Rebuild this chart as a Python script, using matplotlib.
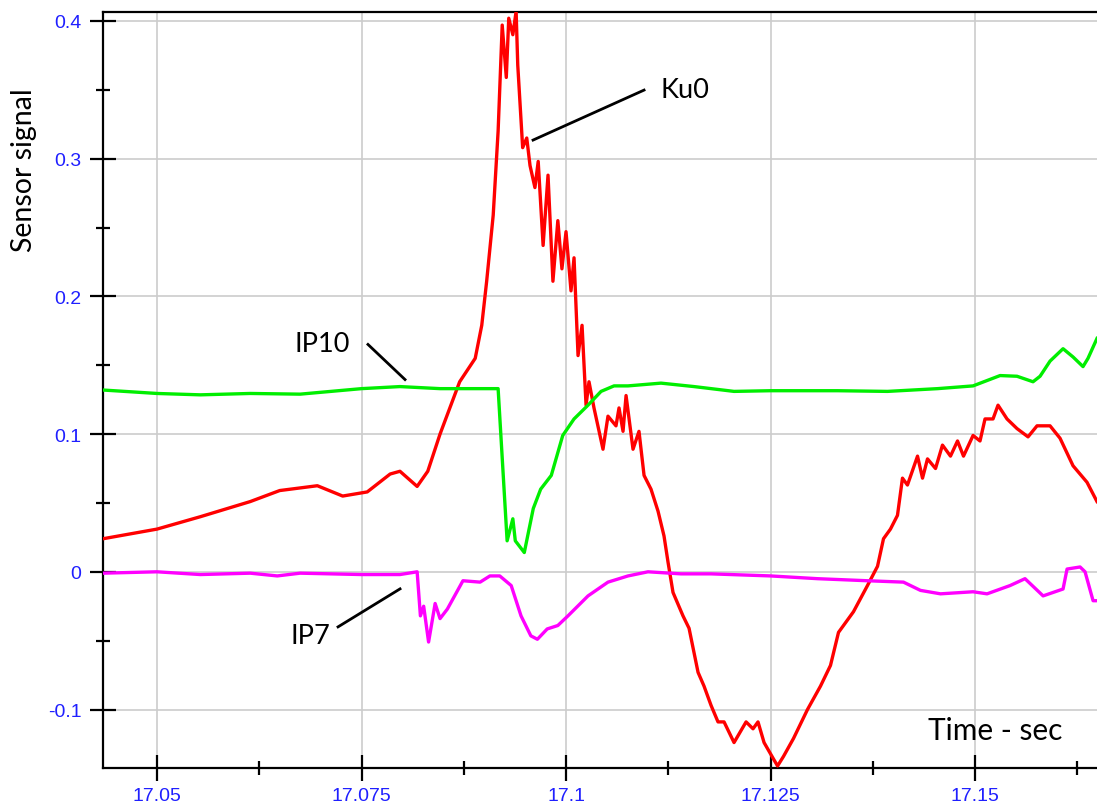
import matplotlib
matplotlib.use("Agg")
import matplotlib.pyplot as plt
from matplotlib.ticker import MultipleLocator

# Ku0 (red)
ku0_t = [17.0434, 17.0500, 17.0553, 17.0614, 17.0650, 17.0696, 17.0727, 17.0757,
         17.0785, 17.0797, 17.0818, 17.0831, 17.0846, 17.0870, 17.0889, 17.0897,
         17.0903, 17.0911, 17.0917, 17.0922, 17.0927, 17.0930, 17.0935, 17.0939,
         17.0941, 17.0947, 17.0952, 17.0956, 17.0962, 17.0966, 17.0972, 17.0978,
         17.0984, 17.0990, 17.0995, 17.1000, 17.10061, 17.10098, 17.10147, 17.10196,
         17.10245, 17.10281, 17.10342, 17.10452, 17.10513, 17.10611, 17.10648, 17.10697,
         17.10734, 17.10819, 17.10892, 17.10954, 17.11039, 17.11125, 17.11198, 17.11247,
         17.11308, 17.11430, 17.11504, 17.11614, 17.11687, 17.11773, 17.11858, 17.11932,
         17.12054, 17.12201, 17.12286, 17.12347, 17.12421, 17.12537, 17.12586, 17.12659,
         17.12781, 17.12952, 17.13111, 17.13233, 17.13331, 17.13514, 17.13685, 17.13808,
         17.13881, 17.13966, 17.14052, 17.14113, 17.14174, 17.14297, 17.14358, 17.14419,
         17.14517, 17.14602, 17.14700, 17.14786, 17.14859, 17.14976, 17.15061, 17.15122,
         17.15220, 17.15281, 17.15391, 17.15513, 17.15648, 17.15758, 17.15917, 17.16039,
         17.16198, 17.16369, 17.16491]
ku0_v = [0.024, 0.031, 0.040, 0.051, 0.059, 0.0625, 0.055, 0.058,
         0.071, 0.073, 0.062, 0.073, 0.100, 0.138, 0.155, 0.179,
         0.211, 0.259, 0.320, 0.397, 0.359, 0.402, 0.390, 0.407,
         0.368, 0.308, 0.315, 0.295, 0.279, 0.298, 0.237, 0.288,
         0.211, 0.255, 0.220, 0.247, 0.204, 0.228, 0.157, 0.179,
         0.121, 0.138, 0.119, 0.089, 0.113, 0.106, 0.119, 0.102,
         0.128, 0.089, 0.102, 0.070, 0.060, 0.044, 0.026, 0.007,
         -0.015, -0.032, -0.041, -0.073, -0.083, -0.097, -0.109, -0.109,
         -0.124, -0.109, -0.114, -0.109, -0.124, -0.136, -0.141, -0.134,
         -0.121, -0.100, -0.083, -0.068, -0.044, -0.029, -0.010, 0.004,
         0.024, 0.031, 0.041, 0.068, 0.063, 0.084, 0.068, 0.082,
         0.075, 0.092, 0.084, 0.095, 0.084, 0.099, 0.095, 0.111,
         0.111, 0.121, 0.111, 0.104, 0.098, 0.106, 0.106, 0.097,
         0.077, 0.065, 0.051]

# IP10 (green)
ip10_t = [17.0434, 17.0500, 17.0553, 17.0614, 17.0675, 17.0750, 17.0797, 17.0846,
          17.0917, 17.0928, 17.0935, 17.0938, 17.0949, 17.0960, 17.0969, 17.0982,
          17.0996, 17.10098, 17.10269, 17.10428, 17.10587, 17.10758, 17.11161, 17.11565,
          17.12054, 17.12500, 17.13319, 17.13930, 17.14541, 17.14976, 17.15306, 17.15513,
          17.15709, 17.15795, 17.15917, 17.16076, 17.16198, 17.16320, 17.16381, 17.16491]
ip10_v = [0.132, 0.1295, 0.1285, 0.1295, 0.129, 0.133, 0.1345, 0.133,
          0.133, 0.0225, 0.0385, 0.0225, 0.014, 0.046, 0.060, 0.070,
          0.099, 0.111, 0.121, 0.131, 0.135, 0.135, 0.137, 0.1345,
          0.131, 0.1315, 0.1315, 0.131, 0.133, 0.135, 0.1425, 0.142,
          0.138, 0.142, 0.153, 0.162, 0.156, 0.149, 0.155, 0.1695]

# IP7 (magenta)
ip7_t = [17.0434, 17.0500, 17.0553, 17.0614, 17.0647, 17.0675, 17.0750, 17.0797,
         17.0818, 17.0822, 17.0826, 17.0832, 17.0840, 17.0846, 17.0855, 17.0874,
         17.0895, 17.0907, 17.0919, 17.0933, 17.0945, 17.0957, 17.0965, 17.0977,
         17.0990, 17.10024, 17.10269, 17.10513, 17.10758, 17.11002, 17.11406, 17.11773,
         17.12500, 17.13075, 17.13685, 17.14125, 17.14333, 17.14578, 17.14976, 17.15147,
         17.15428, 17.15611, 17.15832, 17.16076, 17.16125, 17.16284, 17.16345, 17.16443,
         17.16491]
ip7_v = [-0.001, 0.000, -0.002, -0.001, -0.003, -0.001, -0.002, -0.002,
         0.000, -0.032, -0.025, -0.051, -0.023, -0.034, -0.027, -0.0065,
         -0.0075, -0.003, -0.003, -0.010, -0.032, -0.0465, -0.049, -0.0415,
         -0.039, -0.032, -0.0175, -0.0075, -0.003, 0.000, -0.0015, -0.0015,
         -0.003, -0.005, -0.0065, -0.0075, -0.0135, -0.016, -0.0145, -0.016,
         -0.010, -0.005, -0.0175, -0.0125, 0.002, 0.0035, 0.000, -0.021,
         -0.021]

TEXT_FONT = ['Lato', 'DejaVu Sans']
TICK_BLUE = '#1f1fff'

fig = plt.figure(figsize=(10.97, 8.03), dpi=100)
ax = fig.add_axes([0.0939, 0.0423, 0.9061, 0.9415])

ax.plot(ku0_t, ku0_v, color='#ff0000', lw=2.4, zorder=3)
ax.plot(ip10_t, ip10_v, color='#00ee00', lw=2.4, zorder=4)
ax.plot(ip7_t, ip7_v, color='#ff00ff', lw=2.4, zorder=5)

ax.set_xlim(17.0434, 17.16491)
ax.set_ylim(-0.1425, 0.4065)

ax.xaxis.set_minor_locator(MultipleLocator(0.0125))
ax.yaxis.set_minor_locator(MultipleLocator(0.05))
ax.set_xticks([17.05, 17.075, 17.1, 17.125, 17.15])
ax.set_xticklabels(['17.05', '17.075', '17.1', '17.125', '17.15'])
ax.set_yticks([-0.1, 0, 0.1, 0.2, 0.3, 0.4])
ax.set_yticklabels(['-0.1', '0', '0.1', '0.2', '0.3', '0.4'])

ax.grid(True, which='major', color='#cccccc', lw=1.2, zorder=0)
ax.set_axisbelow(True)

for side in ['left', 'bottom', 'top']:
    ax.spines[side].set_linewidth(1.6)
    ax.spines[side].set_color('black')
ax.spines['right'].set_visible(False)

ax.tick_params(which='major', direction='inout', length=19, width=1.6,
               labelcolor=TICK_BLUE, labelsize=14)
ax.tick_params(which='minor', direction='inout', length=9.5, width=1.6)
ax.tick_params(axis='x', which='major', pad=4)
ax.tick_params(axis='y', which='major', pad=6)
for lbl in ax.get_xticklabels() + ax.get_yticklabels():
    lbl.set_family('Liberation Sans')

# labels
ax.text(-0.079, 0.792, 'Sensor signal', transform=ax.transAxes, rotation=90,
        ha='center', va='center', fontsize=20.5, family=TEXT_FONT)
ax.text(17.14425, -0.115, 'Time - sec', ha='left', va='center',
        fontsize=21.5, family=TEXT_FONT)

# callouts
ax.text(17.11161, 0.350, 'Ku0', ha='left', va='center', fontsize=19.5, family=TEXT_FONT)
ax.plot([17.09597, 17.10954], [0.3135, 0.3498], color='black', lw=2, zorder=6)
ax.text(17.07359, 0.1658, 'IP10', ha='right', va='center', fontsize=19.5, family=TEXT_FONT)
ax.plot([17.07579, 17.08032], [0.1651, 0.1396], color='black', lw=2, zorder=6)
ax.text(17.07115, -0.0465, 'IP7', ha='right', va='center', fontsize=19.5, family=TEXT_FONT)
ax.plot([17.07213, 17.07971], [-0.040, -0.0124], color='black', lw=2, zorder=6)

fig.savefig('out.png', dpi=100)
